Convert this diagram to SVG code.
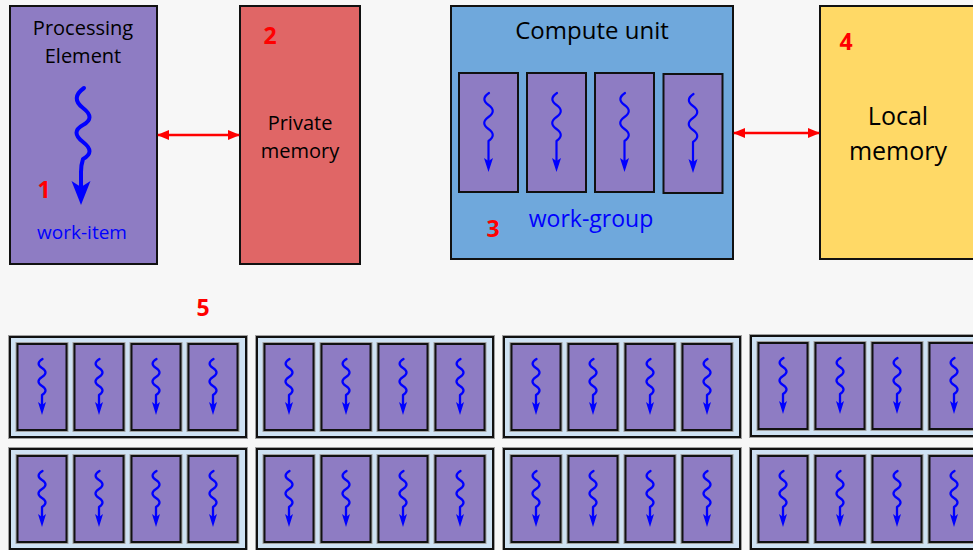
<svg xmlns="http://www.w3.org/2000/svg" xmlns:xlink="http://www.w3.org/1999/xlink" width="973" height="550" viewBox="0 0 973 550">
  <style>
    .box { stroke: #111; stroke-width: 2; }
    .pe { fill: #8e7cc3; }
    .priv { fill: #e06666; }
    .cu { fill: #6fa8dc; }
    .local { fill: #ffd966; }
    .wg { fill: #cfe2f3; }
    .halo { fill: none; stroke: #a0a0a0; stroke-width: 4; }
    .label { font-family: "Open Sans", "Liberation Sans", sans-serif; fill: #000; text-anchor: middle; }
    .blue { fill: #0000ff; }
    .num { font-family: "Open Sans", "Liberation Sans", sans-serif; font-weight: bold; font-size: 23px; fill: #ff0000; text-anchor: middle; }
    .wave { fill: none; stroke: #0000ff; stroke-linecap: round; stroke-linejoin: round; }
    .head { fill: #0000ff; }
    .link { stroke: #ff0000; stroke-width: 2.4; fill: none; }
  </style>
  <defs>
    <marker id="redHead" viewBox="0 0 12 10" refX="11" refY="5" markerWidth="12" markerHeight="10" markerUnits="userSpaceOnUse" orient="auto-start-reverse">
      <path d="M0,0 L12,5 L0,10 Z" fill="#ff0000"/>
    </marker>

    <!-- small work-item box used inside the grid of work-groups (49 x 86) -->
    <g id="itemSmall">
      <rect x="0" y="0" width="49" height="86" class="halo"/>
      <rect x="0" y="0" width="49" height="86" class="box pe"/>
      <path class="wave" stroke-width="2.3" d="M25,15 Q17.5,19.5 24.5,24 T24.5,33 T24.5,42 T24.5,51 L24.5,62"/>
      <polygon class="head" points="20.5,58 24.5,71 28.5,58 24.5,61"/>
    </g>

    <!-- one work-group: light blue frame holding four work-items -->
    <g id="workGroup">
      <rect x="0" y="0" width="236" height="100" class="halo"/>
      <rect x="0" y="0" width="236" height="100" class="box wg"/>
      <use xlink:href="#itemSmall" x="7.5" y="7"/>
      <use xlink:href="#itemSmall" x="64.5" y="7"/>
      <use xlink:href="#itemSmall" x="121.5" y="7"/>
      <use xlink:href="#itemSmall" x="178.5" y="7"/>
    </g>

    <!-- work-item box inside the compute unit (59 x 119) -->
    <g id="itemCU">
      <rect x="0" y="0" width="59" height="119" class="box pe"/>
      <path class="wave" stroke-width="2.2" d="M30,20 Q21,26 29.5,32 T29.5,44 T29.5,56 T29.5,68 L29.5,90"/>
      <polygon class="head" points="25,85 29.5,99 34,85 29.5,88"/>
    </g>
  </defs>

  <rect x="0" y="0" width="973" height="550" fill="#f7f7f7"/>

  <!-- 1: processing element running a single work-item -->
  <g id="processing-element">
    <rect x="10" y="6" width="147" height="258" class="box pe"/>
    <text class="label" x="83" y="35" font-size="20">Processing</text>
    <text class="label" x="83" y="63" font-size="20">Element</text>
    <path class="wave" stroke-width="4" d="M84,88 Q70,98 83,108 T83,125 T83,142 T83,159 Q81,165 81,172 L81,190"/>
    <polygon class="head" points="71.5,181 81,205 90.5,181 81,187"/>
    <text class="num" x="44" y="198">1</text>
    <text class="label blue" x="82" y="239" font-size="19">work-item</text>
  </g>

  <!-- 2: private memory -->
  <g id="private-memory">
    <rect x="240" y="6" width="120" height="258" class="box priv"/>
    <text class="num" x="270" y="44">2</text>
    <text class="label" x="300" y="130" font-size="20">Private</text>
    <text class="label" x="300" y="158" font-size="20">memory</text>
  </g>

  <!-- 3: compute unit executing a work-group -->
  <g id="compute-unit">
    <rect x="451" y="6" width="282" height="253" class="box cu"/>
    <text class="label" x="592" y="39" font-size="24">Compute unit</text>
    <use xlink:href="#itemCU" x="459" y="73"/>
    <use xlink:href="#itemCU" x="527" y="73"/>
    <use xlink:href="#itemCU" x="595" y="73"/>
    <use xlink:href="#itemCU" x="663.5" y="74"/>
    <text class="num" x="493" y="237">3</text>
    <text class="label blue" x="591" y="227" font-size="23">work-group</text>
  </g>

  <!-- 4: local memory -->
  <g id="local-memory">
    <rect x="820" y="6" width="160" height="253" class="box local"/>
    <text class="num" x="846" y="50">4</text>
    <text class="label" x="898" y="125" font-size="25">Local</text>
    <text class="label" x="898" y="160" font-size="25">memory</text>
  </g>

  <!-- 5: the whole range of work-groups -->
  <g id="label-5">
    <text class="num" x="203" y="316">5</text>
  </g>
  <g id="wg-r1c1"><use xlink:href="#workGroup" x="10" y="337"/></g>
  <g id="wg-r1c2"><use xlink:href="#workGroup" x="257" y="337"/></g>
  <g id="wg-r1c3"><use xlink:href="#workGroup" x="504" y="337"/></g>
  <g id="wg-r1c4"><use xlink:href="#workGroup" x="751" y="336"/></g>
  <g id="wg-r2c1"><use xlink:href="#workGroup" x="10" y="449"/></g>
  <g id="wg-r2c2"><use xlink:href="#workGroup" x="257" y="449"/></g>
  <g id="wg-r2c3"><use xlink:href="#workGroup" x="504" y="449"/></g>
  <g id="wg-r2c4"><use xlink:href="#workGroup" x="751" y="449"/></g>

  <!-- memory access links -->
  <g id="connectors">
    <line class="link" x1="158" y1="135" x2="239" y2="135" marker-start="url(#redHead)" marker-end="url(#redHead)"/>
    <line class="link" x1="734" y1="133" x2="819" y2="133" marker-start="url(#redHead)" marker-end="url(#redHead)"/>
  </g>
</svg>
